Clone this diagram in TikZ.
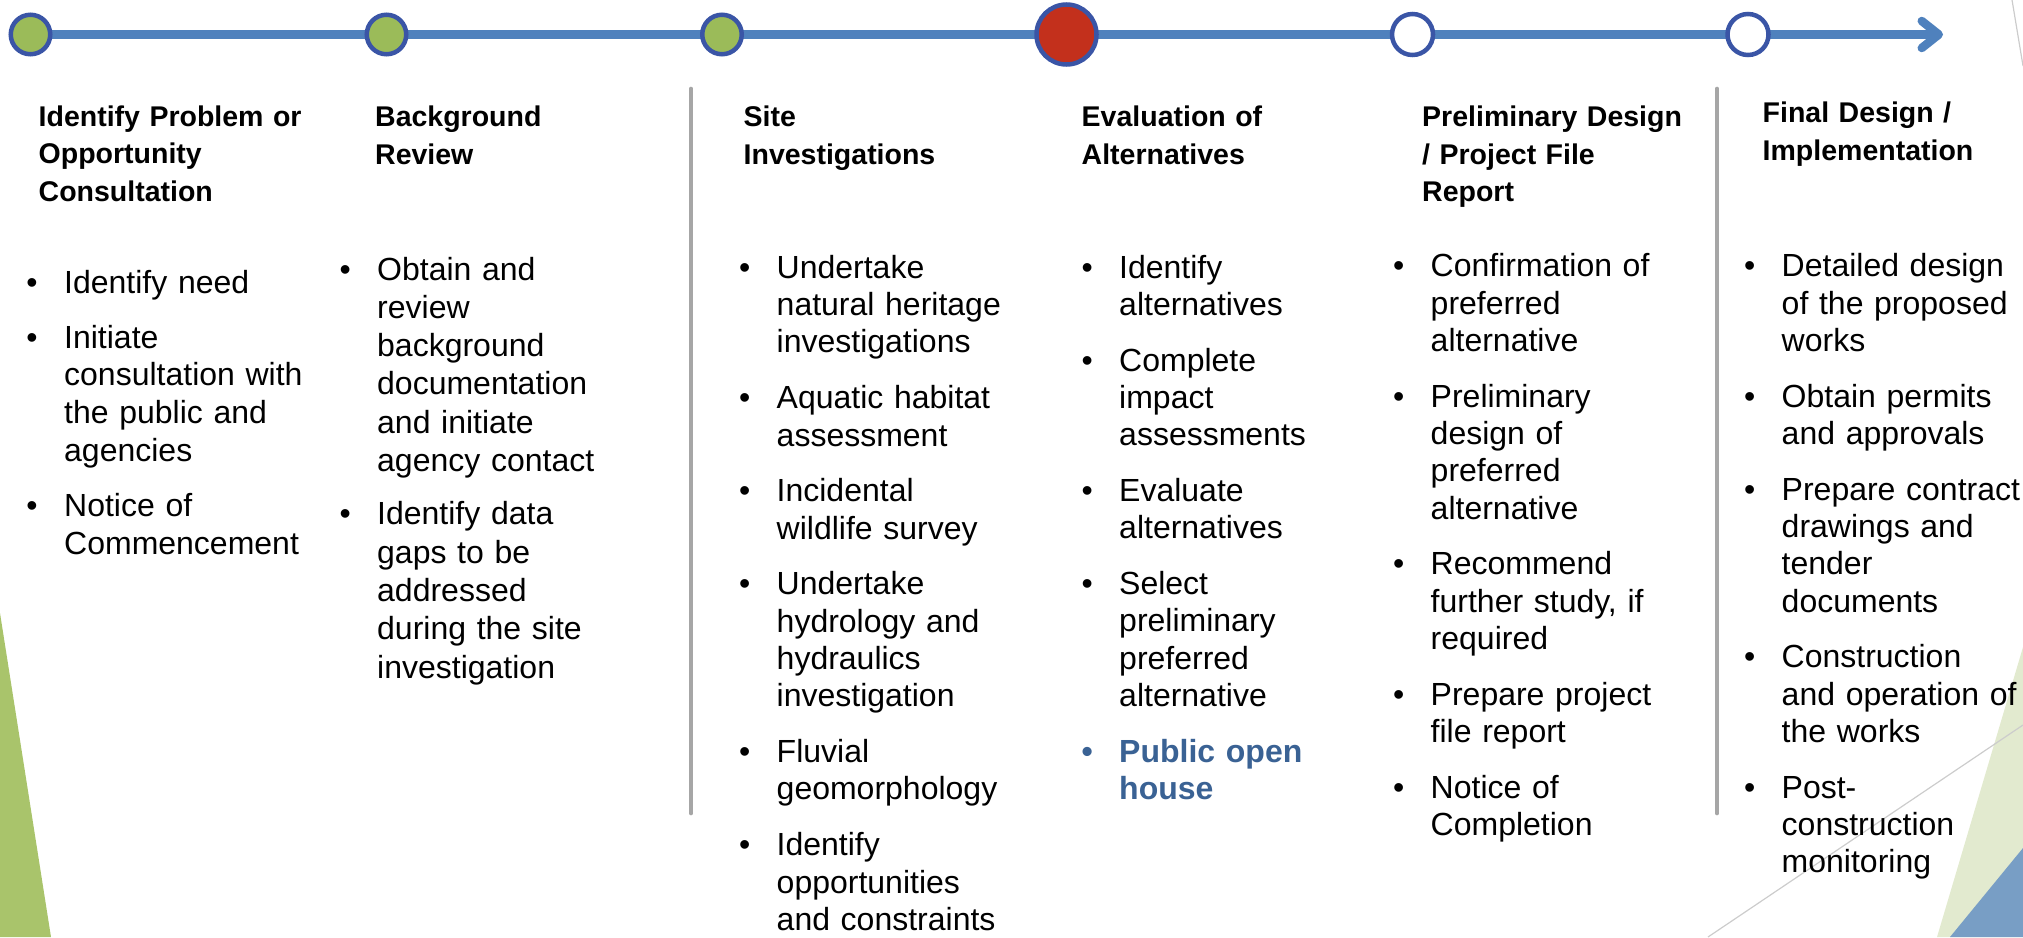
\documentclass[tikz,border=0pt]{standalone}
\usepackage{fontspec}
\setmainfont{Liberation Sans}
\usepackage{xcolor}
\usetikzlibrary{%
	arrows.meta,%
	backgrounds
}
\definecolor{lineblue}{HTML}{4F81BD}
\definecolor{ringblue}{HTML}{3A55A6}
\definecolor{stagegreen}{HTML}{9BBB59}
\definecolor{stagered}{HTML}{C3301C}
\definecolor{sepgray}{HTML}{A6A6A6}
\definecolor{leftgreen}{HTML}{A9C46B}
\definecolor{palegreen}{HTML}{E2EACF}
\definecolor{cornerblue}{HTML}{789EC5}
\definecolor{thingray}{HTML}{CCCCCC}
\definecolor{publicblue}{HTML}{3A6294}
\newcommand{\bul}{\leavevmode\llap{\textbullet\hspace{26.5pt}}}
\newcommand{\phasefont}{\fontsize{28.5pt}{37.5pt}\selectfont\bfseries}
\newcommand{\taskfont}{\fontsize{32pt}{37.3pt}\selectfont}

\begin{document}
\begin{tikzpicture}[x=1pt,y=-1pt,
	stage/.style={circle,draw=ringblue,line width=4.5pt,inner sep=0pt},
	done/.style={stage,fill=stagegreen,minimum size=39.5pt},
	now/.style={stage,fill=stagered,minimum size=60pt},
	todo/.style={stage,fill=white,minimum size=41pt},
	phase/.style={anchor=base west,inner sep=0pt,text width=330pt,align=left,font=\phasefont},
	tasks/.style={anchor=base west,inner sep=0pt,text width=300pt,align=left,font=\taskfont},
	divider/.style={sepgray,line width=4.7pt,line cap=round}]
	\useasboundingbox (0,0) rectangle (2023,937);
	% corner decorations
	\fill[leftgreen] (0,613) -- (51,937) -- (0,937) -- cycle;
	\fill[palegreen] (1937,937) -- (2023,647) -- (2023,937) -- cycle;
	\fill[cornerblue] (1950,937) -- (2023,848) -- (2023,937) -- cycle;
	\draw[thingray,line width=1.2pt] (1708,937) -- (2023,725);
	\draw[thingray,line width=1.2pt] (2012,0) -- (2023,66);
	% timeline
	\foreach \n/\x/\s in {1/30.5/done,2/386.5/done,3/722/done,4/1066.5/now,5/1412.5/todo,6/1748/todo}
	{\node[\s] (c\n) at (\x,34.5) {};}
	\coordinate (tip) at (1943,34.5);
	\begin{scope}[on background layer]
		\draw[lineblue,line width=8.5pt,-{Straight Barb[round,length=17pt,width=27pt]}] (c1.center) -- (tip);
	\end{scope}
	% dividers
	\draw[divider] (691,89) -- (691,813);
	\draw[divider] (1717,89) -- (1717,813);
	% phase titles
	\node[phase] (p1) at (38.5,126) {Identify Problem or\\Opportunity\\Consultation};
	\node[phase] (p2) at (375,126.7) {Background\\Review};
	\node[phase] (p3) at (743.5,126.7) {Site\\Investigations};
	\node[phase] (p4) at (1081.5,126.7) {Evaluation of\\Alternatives};
	\node[phase] (p5) at (1422,126.7) {Preliminary Design\\/ Project File\\Report};
	\node[phase] (p6) at (1762.5,122.7) {Final Design /\\Implementation};
	% task lists
	\node[tasks,font=\fontsize{32pt}{37.8pt}\selectfont] (t1) at (64,293.3)
	{\bul Identify need\\[17pt]
		\bul Initiate\\consultation with\\the public and\\agencies\\[17pt]
		\bul Notice of\\Commencement};
	\node[tasks,font=\fontsize{32pt}{38.3pt}\selectfont] (t2) at (377,280)
	{\bul Obtain and\\review\\background\\documentation\\and initiate\\agency contact\\[15pt]
		\bul Identify data\\gaps to be\\addressed\\during the site\\investigation};
	\node[tasks] (t3) at (776.5,278.3)
	{\bul Undertake\\natural heritage\\investigations\\[18.5pt]
		\bul Aquatic habitat\\assessment\\[18.5pt]
		\bul Incidental\\wildlife survey\\[18.5pt]
		\bul Undertake\\hydrology and\\hydraulics\\investigation\\[18.5pt]
		\bul Fluvial\\geomorphology\\[18.5pt]
		\bul Identify\\opportunities\\and constraints};
	\node[tasks] (t4) at (1119,278)
	{\bul Identify\\alternatives\\[18.5pt]
		\bul Complete\\impact\\assessments\\[18.5pt]
		\bul Evaluate\\alternatives\\[18.5pt]
		\bul Select\\preliminary\\preferred\\alternative\\[18.5pt]
		{\color{publicblue}\bfseries\bul Public open\\house}};
	\node[tasks] (t5) at (1430.5,276.7)
	{\bul Confirmation of\\preferred\\alternative\\[18.5pt]
		\bul Preliminary\\design of\\preferred\\alternative\\[18.5pt]
		\bul Recommend\\further study, if\\required\\[18.5pt]
		\bul Prepare project\\file report\\[18.5pt]
		\bul Notice of\\Completion};
	\node[tasks] (t6) at (1781.5,276.7)
	{\bul Detailed design\\of the proposed\\works\\[18.5pt]
		\bul Obtain permits\\and approvals\\[18.5pt]
		\bul Prepare contract\\drawings and\\tender\\documents\\[18.5pt]
		\bul Construction\\and operation of\\the works\\[18.5pt]
		\bul Post-\\construction\\monitoring};
\end{tikzpicture}
\end{document}
